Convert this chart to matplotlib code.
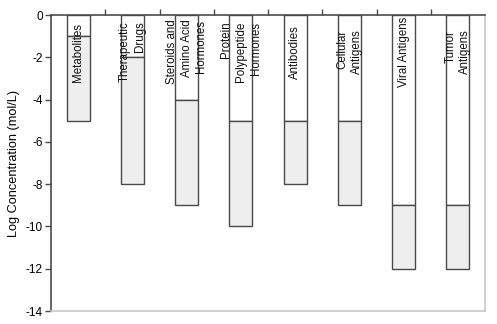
import numpy as np
import matplotlib
matplotlib.use("Agg")
import matplotlib.pyplot as plt

plt.rcParams["font.family"] = ["Liberation Sans", "DejaVu Sans"]

# analyte classes and their log concentration ranges (mol/L)
categories = [
    "Metabolites",
    "Therapeutic\nDrugs",
    "Steroids and\nAmino Acid\nHormones",
    "Protein\nPolypeptide\nHormones",
    "Antibodies",
    "Cellular\nAntigens",
    "Viral Antigens",
    "Tumor\nAntigens",
]
upper_limit = [-1, -2, -4, -5, -5, -5, -9, -9]
lower_limit = [-5, -8, -9, -10, -8, -9, -12, -12]
y_ticks = [0, -2, -4, -6, -8, -10, -12, -14]

fig = plt.figure(figsize=(4.97, 3.24), dpi=100)
ax = fig.add_axes([51 / 497, 1 - 311 / 324, 434 / 497, 296 / 324])

x = np.arange(len(categories))
upper = np.array(upper_limit)
lower = np.array(lower_limit)
width = 0.42
edge = "#4a4a4a"

ax.bar(x, upper, width, color="white", edgecolor=edge, linewidth=1.0, zorder=2)
ax.bar(x, lower - upper, width, bottom=upper, color="#eeeeee",
       edgecolor=edge, linewidth=1.0, zorder=2)

for xi, name in zip(x, categories):
    ax.text(xi, -1.75, name, rotation=90, ha="center", va="center",
            multialignment="right", fontsize=8.3, linespacing=1.3,
            color="#111111", zorder=3)

ax.set_xlim(-0.5, len(categories) - 0.5)
ax.set_ylim(-14, 0)
ax.set_yticks(y_ticks)
ax.set_yticklabels([str(t) for t in y_ticks], fontsize=8.5)
ax.set_ylabel("Log Concentration (mol/L)", fontsize=9.2, labelpad=4)

ax.xaxis.tick_top()
ax.set_xticks(np.arange(0.5, len(categories) - 0.5, 1.0))
ax.set_xticklabels([])
ax.tick_params(axis="x", direction="out", length=4, width=1.0, color="#4a4a4a")
ax.tick_params(axis="y", direction="out", length=4, width=1.0, color="#4a4a4a", pad=2)

ax.spines["left"].set_color("#4a4a4a")
ax.spines["left"].set_linewidth(1.2)
ax.spines["top"].set_color("#4a4a4a")
ax.spines["top"].set_linewidth(1.2)
ax.spines["right"].set_color("#c8c8c8")
ax.spines["bottom"].set_color("#c8c8c8")
ax.spines["right"].set_linewidth(1.2)
ax.spines["bottom"].set_linewidth(1.2)

fig.savefig("out.png", dpi=100)
